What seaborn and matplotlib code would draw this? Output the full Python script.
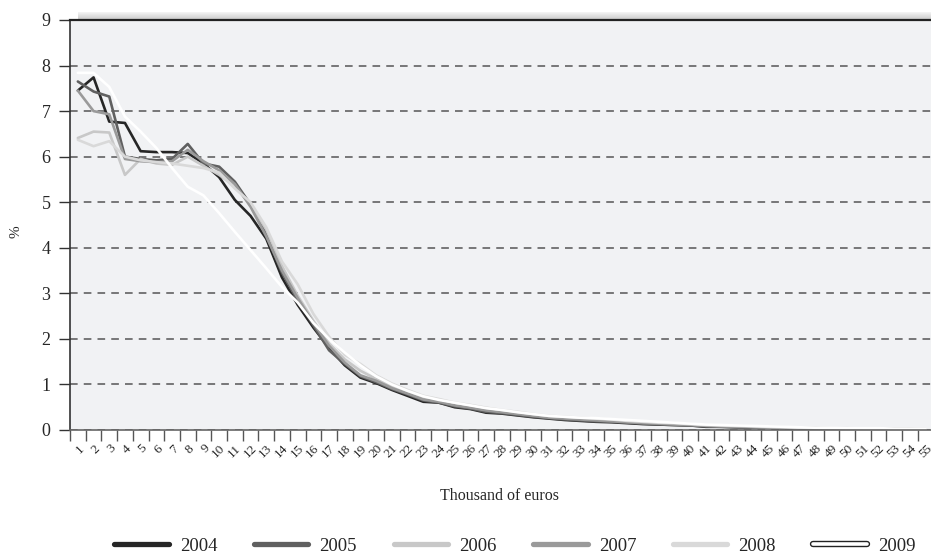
import numpy as np
import pandas as pd
import matplotlib
matplotlib.use("Agg")
import matplotlib.pyplot as plt
import matplotlib.patheffects as pe
from matplotlib.lines import Line2D
import seaborn as sns

# Income brackets (thousand of euros) and share of taxpayers (%) per year
categories = [str(i) for i in range(1, 56)]
years = ["2004", "2005", "2006", "2007", "2008", "2009"]

v2004 = [7.45, 7.74, 6.77, 6.74, 6.12, 6.10, 6.10, 6.08, 5.85, 5.55, 5.05, 4.70, 4.20, 3.35, 2.75,
         2.25, 1.80, 1.42, 1.15, 1.03, 0.88, 0.75, 0.62, 0.60, 0.50, 0.46, 0.38, 0.36, 0.32, 0.28,
         0.25, 0.22, 0.20, 0.18, 0.17, 0.15, 0.13, 0.12, 0.11, 0.10, 0.07, 0.07, 0.06, 0.05, 0.05,
         0.04, 0.04, 0.03, 0.03, 0.02, 0.02, 0.02, 0.02, 0.01, 0.01]
v2005 = [7.65, 7.43, 7.32, 6.00, 5.95, 5.92, 5.95, 6.28, 5.85, 5.78, 5.45, 4.95, 4.30, 3.45, 2.85,
         2.30, 1.75, 1.45, 1.18, 1.05, 0.90, 0.78, 0.65, 0.60, 0.52, 0.47, 0.40, 0.37, 0.33, 0.29,
         0.26, 0.23, 0.21, 0.19, 0.18, 0.16, 0.14, 0.12, 0.11, 0.10, 0.08, 0.07, 0.06, 0.06, 0.05,
         0.04, 0.04, 0.03, 0.03, 0.03, 0.02, 0.02, 0.02, 0.02, 0.01]
v2006 = [6.41, 6.55, 6.53, 5.60, 5.95, 5.85, 5.82, 6.00, 5.80, 5.60, 5.35, 4.95, 4.40, 3.60, 2.95,
         2.40, 1.90, 1.55, 1.30, 1.12, 0.96, 0.82, 0.70, 0.64, 0.57, 0.52, 0.46, 0.41, 0.37, 0.33,
         0.29, 0.27, 0.25, 0.23, 0.21, 0.19, 0.17, 0.15, 0.14, 0.12, 0.10, 0.09, 0.08, 0.07, 0.06,
         0.05, 0.05, 0.04, 0.04, 0.03, 0.03, 0.03, 0.02, 0.02, 0.02]
v2007 = [7.45, 7.00, 6.93, 5.95, 5.90, 5.88, 5.90, 6.15, 5.90, 5.70, 5.40, 4.90, 4.25, 3.50, 2.90,
         2.35, 1.85, 1.48, 1.20, 1.08, 0.92, 0.80, 0.67, 0.62, 0.54, 0.49, 0.43, 0.39, 0.35, 0.31,
         0.27, 0.25, 0.23, 0.21, 0.19, 0.17, 0.15, 0.14, 0.12, 0.11, 0.09, 0.08, 0.07, 0.06, 0.06,
         0.05, 0.04, 0.04, 0.03, 0.03, 0.03, 0.02, 0.02, 0.02, 0.02]
v2008 = [6.37, 6.23, 6.34, 6.00, 5.92, 5.88, 5.85, 5.80, 5.75, 5.65, 5.30, 5.00, 4.45, 3.70, 3.20,
         2.55, 2.05, 1.65, 1.45, 1.20, 1.02, 0.88, 0.75, 0.68, 0.60, 0.55, 0.49, 0.44, 0.40, 0.35,
         0.31, 0.29, 0.27, 0.25, 0.23, 0.20, 0.18, 0.16, 0.15, 0.13, 0.11, 0.10, 0.09, 0.08, 0.07,
         0.06, 0.05, 0.05, 0.04, 0.04, 0.03, 0.03, 0.03, 0.02, 0.02]
v2009 = [7.84, 7.84, 7.53, 6.88, 6.55, 6.19, 5.75, 5.34, 5.15, 4.76, 4.35, 3.95, 3.55, 3.14, 2.80,
         2.35, 2.00, 1.70, 1.42, 1.18, 1.00, 0.86, 0.74, 0.66, 0.60, 0.54, 0.48, 0.44, 0.39, 0.35,
         0.31, 0.29, 0.27, 0.26, 0.24, 0.22, 0.20, 0.18, 0.16, 0.14, 0.12, 0.11, 0.10, 0.09, 0.08,
         0.07, 0.06, 0.05, 0.05, 0.04, 0.04, 0.04, 0.03, 0.03, 0.03]

series = [v2004, v2005, v2006, v2007, v2008, v2009]
colors = {"2004": "#262626", "2005": "#606060", "2006": "#c8c8c8",
          "2007": "#9a9a9a", "2008": "#d9d9d9", "2009": "#ffffff"}

rows = []
for year, vals in zip(years, series):
    for pos, (cat, v) in enumerate(zip(categories, vals)):
        rows.append({"year": year, "pos": pos, "bracket": cat, "value": v})
df = pd.DataFrame(rows)

sns.set_style("white")
plt.rcParams["font.family"] = ["Liberation Serif", "DejaVu Serif"]

W, H = 931, 554
fig = plt.figure(figsize=(W / 100, H / 100), dpi=100)

# soft shadow strip above the plot frame
shadow = fig.add_axes([78 / W, (H - 20) / H, (W - 78) / W, 8 / H])
grad = np.linspace(0.96, 0.78, 32).reshape(-1, 1)
shadow.imshow(grad, aspect="auto", cmap="gray", vmin=0, vmax=1, extent=[0, 1, 0, 1])
shadow.set_axis_off()

ax = fig.add_axes([70 / W, (H - 430) / H, 55 * 15.7 / W, 410 / H])
ax.set_facecolor("#f1f2f4")

sns.lineplot(data=df, x="pos", y="value", hue="year", hue_order=years, palette=colors,
             estimator=None, sort=False, linewidth=1.9, legend=False, ax=ax)
for ln in ax.get_lines():
    ln.set_solid_joinstyle("round")

ax.set_xlim(-0.5, 54.5)
ax.set_ylim(0, 9)

# category boundaries carry the tick marks, labels sit at the centres
ax.set_xticks(np.arange(-0.5, 55, 1.0))
ax.set_xticklabels([])
ax.set_xticks(np.arange(len(categories)), minor=True)
ax.set_xticklabels(categories, minor=True, rotation=45, ha="right", va="top",
                   rotation_mode="anchor", fontsize=9.5)
ax.tick_params(axis="x", which="major", direction="out", length=8, width=1.0,
               color="#555555", bottom=True)
ax.tick_params(axis="x", which="minor", length=0, pad=9)

ax.set_yticks(range(0, 10))
ax.set_yticklabels([str(i) for i in range(0, 10)], fontsize=13)
ax.tick_params(axis="y", direction="out", length=8, width=1.0, color="#333333",
               left=True, pad=6)

ax.set_axisbelow(True)
ax.grid(axis="y", linestyle=(0, (5, 4)), color="#555555", linewidth=1.1)
ax.grid(axis="x", visible=False)

ax.spines["right"].set_visible(False)
ax.spines["top"].set_color("#222222")
ax.spines["top"].set_linewidth(1.6)
ax.spines["left"].set_color("#333333")
ax.spines["left"].set_linewidth(1.2)
ax.spines["bottom"].set_color("#666666")
ax.spines["bottom"].set_linewidth(1.2)
ax.set_xlabel("")
ax.set_ylabel("")

fig.text(500 / W, 1 - 496 / H, "Thousand of euros", ha="center", va="center", fontsize=11.5)
fig.text(16 / W, 1 - 232 / H, "%", ha="center", va="center", rotation=90, fontsize=11)

handles = []
for y in years:
    if y == "2009":
        h = Line2D([], [], color="#ffffff", linewidth=2.6,
                   path_effects=[pe.Stroke(linewidth=4.6, foreground="#222222"), pe.Normal()])
    else:
        h = Line2D([], [], color=colors[y], linewidth=3.8)
    handles.append(h)

fig.legend(handles, years, loc="center", bbox_to_anchor=(515 / W, 1 - 546 / H), ncol=6,
           frameon=False, fontsize=13.5, handlelength=2.9, handletextpad=0.6,
           columnspacing=1.95, borderpad=0.2)

fig.savefig("out.png", dpi=100)
